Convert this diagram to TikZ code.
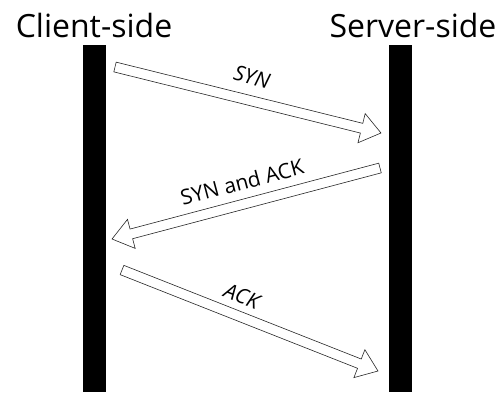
\documentclass[tikz,border=0pt]{standalone}
\usepackage{fontspec}
\setmainfont{Open Sans}
\usetikzlibrary{calc}

\tikzset{
  lifeline/.style={rectangle, fill=black, inner sep=0pt, minimum width=23pt, minimum height=347pt},
  sidename/.style={font=\fontsize{32}{36}\selectfont, inner sep=0pt, anchor=base},
  msgbody/.style={draw=black!85, fill=white, line width=0.6pt, line join=miter},
  msglabel/.style={font=\fontsize{21}{25}\selectfont, inner sep=0pt}
}

% hollow block arrow from #1 to #2
\newcommand{\msgarrow}[2]{%
  \coordinate (hb) at ($(#2)!20pt!(#1)$);
  \draw[msgbody] ($(#1)!5pt!90:(#2)$) -- ($(hb)!5pt!90:(#2)$) -- ($(hb)!15pt!90:(#2)$)
    -- (#2) -- ($(hb)!15pt!-90:(#2)$) -- ($(hb)!5pt!-90:(#2)$) -- ($(#1)!5pt!-90:(#2)$) -- cycle;}

\begin{document}
\begin{tikzpicture}[x=1pt,y=-1pt]
 \useasboundingbox (0,0) rectangle (501,392);

 % lifelines
 \node[lifeline] (client) at (94.5,218.5) {};
 \node[lifeline] (server) at (400,218.5) {};

 \node[sidename] (clientname) at (94,37) {Client-side};
 \node[sidename] (servername) at (413,37) {Server-side};

 % message ends
 \coordinate (synA) at (115,67);
 \coordinate (synB) at (381,133);
 \coordinate (sackA) at (380,168);
 \coordinate (sackB) at (112,239);
 \coordinate (ackA) at (122,270);
 \coordinate (ackB) at (378,371);

 % messages
 \msgarrow{synA}{synB}
 \msgarrow{sackA}{sackB}
 \msgarrow{ackA}{ackB}

 % labels
 \node[msglabel, rotate=-14] (synlabel) at (252,77) {\itshape SYN};
 \node[msglabel, rotate=15] (sacklabel) at (242,182) {SYN and ACK};
 \node[msglabel, rotate=-22] (acklabel) at (242,296) {\itshape ACK};
\end{tikzpicture}
\end{document}
